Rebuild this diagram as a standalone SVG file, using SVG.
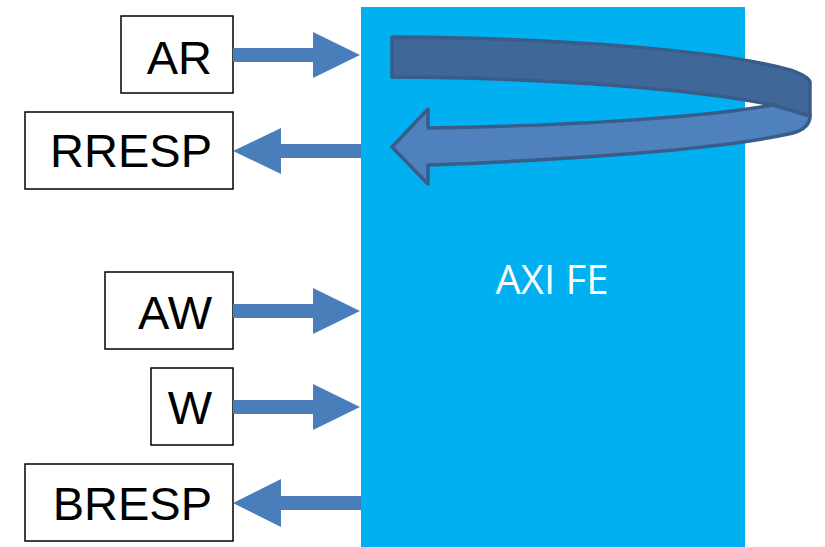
<svg xmlns="http://www.w3.org/2000/svg" width="825" height="547" viewBox="0 0 825 547">
<style>
.box{fill:#fff;stroke:#000;stroke-width:1.5}
.lbl{font-family:"Liberation Sans",Arial,sans-serif;font-size:47px;fill:#000;text-anchor:end}
.arr{fill:#4A7EBB}
.fe{fill:#00B0F0}
.felbl{font-family:"Open Sans","Liberation Sans",sans-serif;font-size:40px;fill:#fff;text-anchor:middle}
.curve{stroke:#385D8A;stroke-width:3.5;stroke-linejoin:round}
</style>
<rect width="825" height="547" fill="#fff"/>
<g id="axi-fe">
<rect class="fe" x="361" y="7" width="384" height="540"/>
<text class="felbl" x="552" y="294">AXI FE</text>
</g>
<g id="ar"><rect class="box" x="121" y="16" width="112" height="77"/><text class="lbl" x="212" y="74">AR</text></g>
<g id="rresp"><rect class="box" x="25" y="112" width="208" height="77"/><text class="lbl" x="212" y="167">RRESP</text></g>
<g id="aw"><rect class="box" x="105" y="272" width="128" height="77"/><text class="lbl" x="212" y="329">AW</text></g>
<g id="w"><rect class="box" x="151" y="368" width="82" height="77"/><text class="lbl" x="212" y="424">W</text></g>
<g id="bresp"><rect class="box" x="25" y="464" width="208" height="77"/><text class="lbl" x="212" y="520">BRESP</text></g>
<g id="connectors">
<polygon class="arr" points="233,48 313,48 313,32 360,55 313,78 313,62 233,62"/>
<polygon class="arr" points="361,144 281,144 281,128 233,151 281,174 281,158 361,158"/>
<polygon class="arr" points="233,304 313,304 313,288 360,311 313,334 313,318 233,318"/>
<polygon class="arr" points="233,400 313,400 313,384 360,407 313,430 313,414 233,414"/>
<polygon class="arr" points="361,496 281,496 281,479 233,503 281,527 281,510 361,510"/>
<path class="curve" fill="#3F6797" d="M392,37 C560,38 720,50 790,70 Q808,76 810,82 L810,116 L773,105 C700,90 560,78 392,77 Z"/>
<path class="curve" fill="#4F81BD" d="M773,105 L810,116 Q810,128 793,133 C720,150 560,160 428,165 L428,184 L392,147 L428,109 L428,128 C560,126 700,118 773,105 Z"/>
</g>
</svg>
